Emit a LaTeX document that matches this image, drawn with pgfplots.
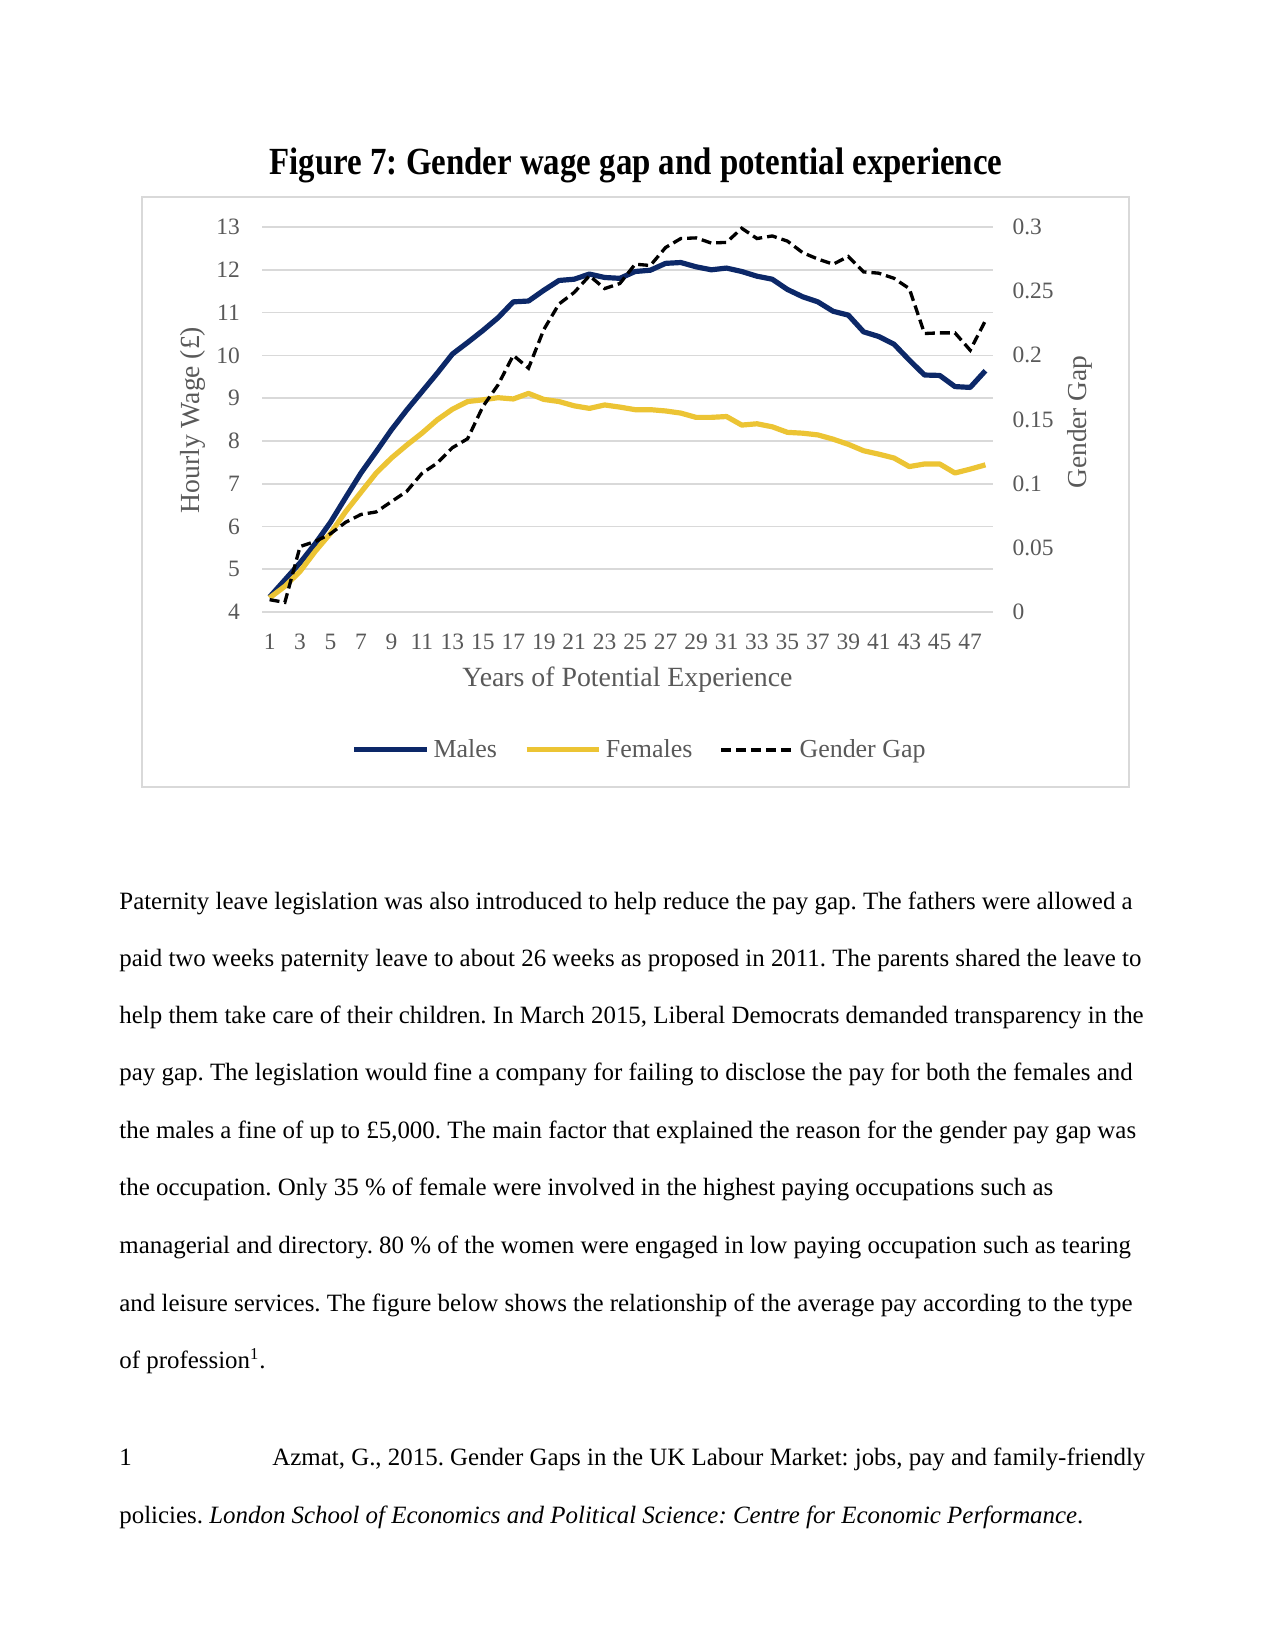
\documentclass[border=0pt]{standalone}
\usepackage{pgfplots}
\pgfplotsset{compat=1.18}
\usepackage{fontspec}
\setmainfont{Liberation Serif}
\definecolor{navy}{RGB}{12,40,104}
\definecolor{gold}{RGB}{236,196,52}
\definecolor{txtgray}{RGB}{89,89,89}
\definecolor{gridgray}{RGB}{217,217,217}
\pgfplotstableread{
x m f g
1 4.35 4.33 0.0096
2 4.75 4.60 0.0075
3 5.15 4.95 0.051
4 5.60 5.42 0.055
5 6.10 5.84 0.061
6 6.68 6.35 0.070
7 7.25 6.80 0.076
8 7.75 7.25 0.078
9 8.26 7.60 0.086
10 8.72 7.90 0.094
11 9.15 8.18 0.108
12 9.58 8.49 0.116
13 10.03 8.74 0.128
14 10.30 8.92 0.135
15 10.58 8.96 0.160
16 10.88 9.01 0.177
17 11.25 8.98 0.200
18 11.27 9.11 0.190
19 11.52 8.97 0.220
20 11.75 8.92 0.240
21 11.78 8.82 0.249
22 11.90 8.76 0.262
23 11.82 8.84 0.252
24 11.80 8.79 0.256
25 11.96 8.73 0.271
26 11.99 8.73 0.270
27 12.15 8.70 0.284
28 12.17 8.65 0.291
29 12.07 8.55 0.2915
30 12.00 8.55 0.2875
31 12.04 8.57 0.288
32 11.96 8.37 0.299
33 11.85 8.40 0.291
34 11.78 8.33 0.293
35 11.54 8.20 0.289
36 11.37 8.18 0.280
37 11.25 8.14 0.275
38 11.03 8.04 0.271
39 10.94 7.92 0.277
40 10.55 7.77 0.265
41 10.44 7.69 0.264
42 10.26 7.60 0.260
43 9.89 7.40 0.252
44 9.54 7.46 0.217
45 9.53 7.46 0.2175
46 9.27 7.25 0.2175
47 9.25 7.34 0.204
48 9.64 7.44 0.227
}\datatable
\begin{document}
\frenchspacing
\begin{tikzpicture}[x=0.4818pt,y=0.4818pt]
\path[use as bounding box] (0,0) rectangle (1275,1650);
\fill[white] (0,0) rectangle (1275,1650);
% title
\node[anchor=base, inner sep=0pt] at (636,1475) {\resizebox{353pt}{\height}{\fontsize{18.5pt}{20pt}\selectfont\bfseries Figure 7: Gender wage gap and potential experience}};
% chart frame
\draw[gridgray, line width=0.8pt] (142,863) rectangle (1129,1453);
\begin{axis}[
  at={(126.23pt,500.09pt)}, anchor=south west,
  scale only axis, width=352.2pt, height=185.5pt,
  xmin=0.5, xmax=48.5, ymin=4, ymax=13,
  axis y line*=left, axis x line*=bottom,
  axis line style={draw=none},
  major tick length=0pt,
  xtick={1,3,...,47},
  ytick={4,5,...,13},
  ymajorgrids, grid style={gridgray, line width=0.8pt},
  /pgf/number format/assume math mode=true,
  ticklabel style={font=\fontsize{11.3pt}{13pt}\selectfont, text=txtgray},
  yticklabel style={inner sep=0pt, anchor=east, xshift=-10.5pt},
  xticklabel style={inner sep=0pt, anchor=north, yshift=-10.5pt},
  xlabel={Years of Potential Experience},
  ylabel={Hourly Wage (£)},
  every axis x label/.style={at={(axis description cs:0.5,-0.1766)}, anchor=center, font=\fontsize{13.4pt}{15pt}\selectfont, text=txtgray},
  every axis y label/.style={at={(axis description cs:-0.0944,0.4987)}, rotate=90, anchor=center, font=\fontsize{13.3pt}{15pt}\selectfont, text=txtgray},
  legend columns=3,
  legend style={at={(axis description cs:0.518,-0.358)}, anchor=center, draw=none, fill=none,
    font=\fontsize{12.5pt}{14pt}\selectfont, text=txtgray,
    /tikz/every even column/.append style={column sep=11pt}},
  legend image code/.code={\draw[#1] (0pt,0pt) -- (35pt,0pt);},
]
\addlegendimage{navy, line width=2.5pt}
\addlegendentry{Males}
\addlegendimage{gold, line width=2.5pt}
\addlegendentry{Females}
\addlegendimage{black, line width=1.6pt, dash pattern=on 4.8pt off 2.4pt}
\addlegendentry{Gender Gap}
\addplot[navy, line width=2.5pt, line join=round] table[x=x,y=m] {\datatable};
\addplot[gold, line width=2.5pt, line join=round] table[x=x,y=f] {\datatable};
\end{axis}
\begin{axis}[
  at={(126.23pt,500.09pt)}, anchor=south west,
  scale only axis, width=352.2pt, height=185.5pt,
  xmin=0.5, xmax=48.5, ymin=0, ymax=0.3,
  axis y line*=right, axis x line=none,
  axis line style={draw=none},
  major tick length=0pt,
  ytick={0,0.05,...,0.3},
  yticklabels={0,0.05,0.1,0.15,0.2,0.25,0.3},
  ticklabel style={font=\fontsize{11.3pt}{13pt}\selectfont, text=txtgray},
  yticklabel style={inner sep=0pt, anchor=west, xshift=9.2pt},
  ylabel={Gender Gap},
  every axis y label/.style={at={(axis description cs:1.119,0.4935)}, rotate=90, anchor=center, font=\fontsize{13.2pt}{15pt}\selectfont, text=txtgray},
]
\addplot[black, line width=1.6pt, dash pattern=on 4.8pt off 2.4pt] table[x=x,y=g] {\datatable};
\end{axis}
% body text
\begin{scope}[every node/.style={anchor=base west, inner sep=0pt, font=\fontsize{12pt}{14pt}\selectfont}]
\node at (119,740) {Paternity leave legislation was also introduced to help reduce the pay gap. The fathers were allowed a};
\node at (119,683) {paid two weeks paternity leave to about 26 weeks as proposed in 2011. The parents shared the leave to};
\node at (119,626) {help them take care of their children. In March 2015, Liberal Democrats demanded transparency in the};
\node at (119,569) {pay gap. The legislation would fine a company for failing to disclose the pay for both the females and};
\node at (119,511) {the males a fine of up to £5,000. The main factor that explained the reason for the gender pay gap was};
\node at (119,454) {the occupation. Only 35 \% of female were involved in the highest paying occupations such as};
\node at (119,396) {managerial and directory. 80 \% of the women were engaged in low paying occupation such as tearing};
\node at (119,338) {and leisure services. The figure below shows the relationship of the average pay according to the type};
\node at (119,281) {of profession\textsuperscript{1}.};
\node at (119,184) {1};
\node at (272,184) {Azmat, G., 2015. Gender Gaps in the UK Labour Market: jobs, pay and family-friendly};
\node at (119,126) {policies. \textit{London School of Economics and Political Science: Centre for Economic Performance}.};
\end{scope}
\end{tikzpicture}
\end{document}
